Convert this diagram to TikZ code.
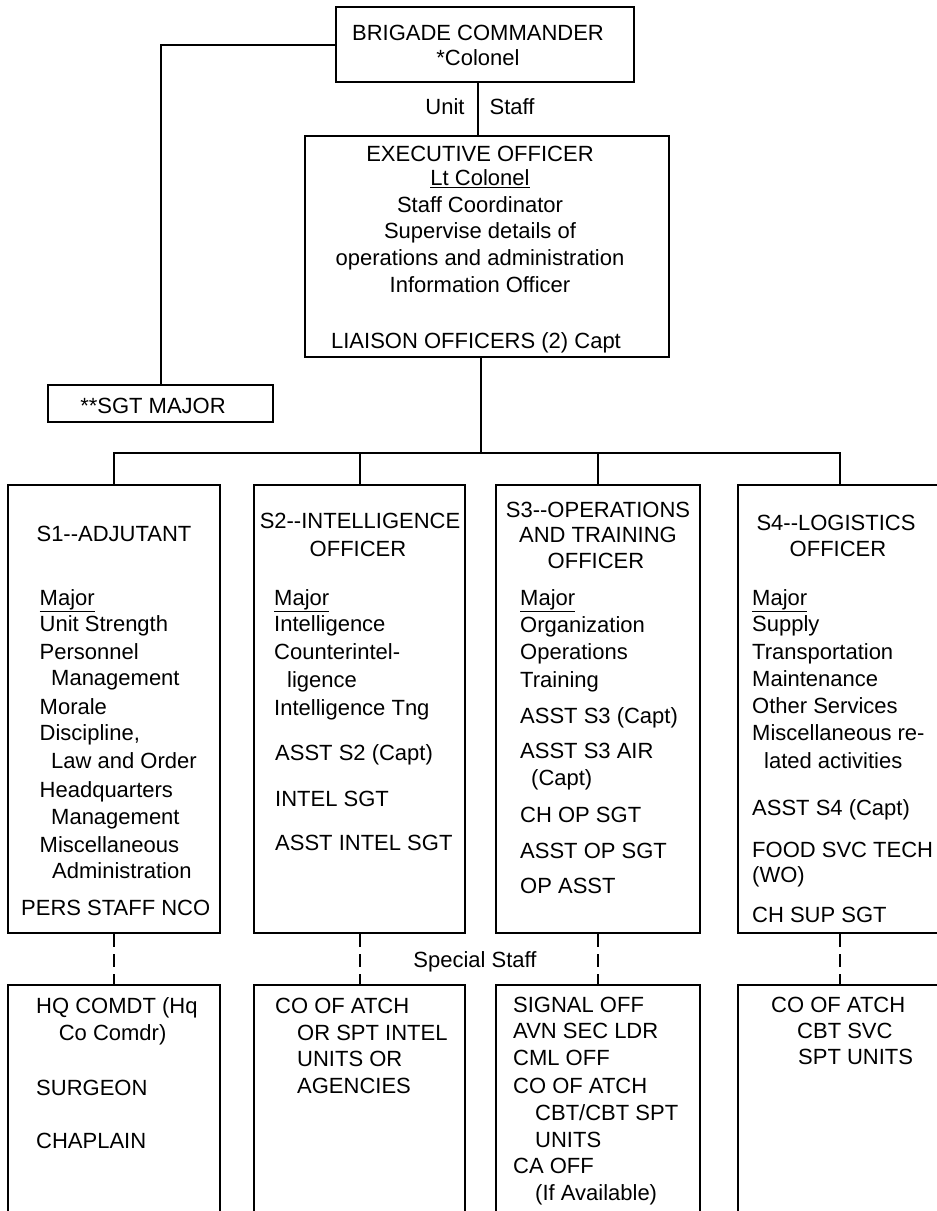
\documentclass[tikz,border=0pt]{standalone}
\usepackage{fontspec}
\setmainfont{Liberation Sans}
\begin{document}
\begin{tikzpicture}[x=1pt,y=-1pt,
  box/.style={draw, line width=2.4pt, rectangle, inner sep=0pt},
  ln/.style={line width=2pt},
  dsh/.style={line width=2pt, dash pattern=on 13pt off 7pt},
  txt/.style={font=\fontsize{22}{26}\selectfont, inner sep=0pt, anchor=base west},
  ctxt/.style={txt, anchor=base}]
\useasboundingbox (0,0) rectangle (937,1211);
\fill[white] (0,0) rectangle (937,1211);

% boxes
\node[box, minimum width=298pt, minimum height=75pt] (bc) at (485,44.5) {};
\node[box, minimum width=364pt, minimum height=221pt] (xo) at (487,246.5) {};
\node[box, minimum width=225pt, minimum height=37pt] (sgt) at (160.5,403.5) {};
\node[box, minimum width=212pt, minimum height=448pt] (s1) at (114,709) {};
\node[box, minimum width=211pt, minimum height=448pt] (s2) at (359.5,709) {};
\node[box, minimum width=204pt, minimum height=448pt] (s3) at (598,709) {};
\node[box, minimum width=204pt, minimum height=448pt] (s4) at (840,709) {};
\node[box, minimum width=212pt, minimum height=245pt] (sp1) at (114,1107.5) {};
\node[box, minimum width=211pt, minimum height=245pt] (sp2) at (359.5,1107.5) {};
\node[box, minimum width=204pt, minimum height=245pt] (sp3) at (598,1107.5) {};
\node[box, minimum width=204pt, minimum height=245pt] (sp4) at (840,1107.5) {};

% connectors
\coordinate (ax) at (478,0);
\coordinate (bus) at (481,453);
\draw[ln] (bc.west) -| (sgt.north);
\draw[ln] (bc.south -| ax) -- (xo.north -| ax);
\draw[ln] (xo.south -| bus) -- (bus);
\draw[ln] (s1.north) |- (bus) -| (s4.north);
\draw[ln] (s2.north) -- (s2.north |- bus);
\draw[ln] (s3.north) -- (s3.north |- bus);
\draw[dsh] (s1.south) -- (sp1.north);
\draw[dsh] (s2.south) -- (sp2.north);
\draw[dsh] (s3.south) -- (sp3.north);
\draw[dsh] (s4.south) -- (sp4.north);

% top texts
\node[ctxt] (bct1) at (478,40) {BRIGADE COMMANDER};
\node[ctxt] (bct2) at (478,65) {*Colonel};
\node[ctxt] (unit) at (445,114) {Unit};
\node[ctxt] (staff) at (512,114) {Staff};
\foreach \px/\py/\tx [count=\i] in {
  480/161/{EXECUTIVE OFFICER},
  480/185.5/{\underline{Lt Colonel}},
  480/212/{Staff Coordinator},
  480/238/{Supervise details of},
  480/265/{operations and administration},
  480/292/{Information Officer},
  476/348/{LIAISON OFFICERS (2) Capt}}
  \node[ctxt] (xt\i) at (\px,\py) {\tx};
\node[ctxt] (sgtt) at (153,413) {**SGT MAJOR};
\node[ctxt] (spst) at (475,967) {Special Staff};

% titles
\node[ctxt] (s1t) at (114,541) {S1{-}{-}ADJUTANT};
\node[ctxt] (s2t1) at (360,528) {S2{-}{-}INTELLIGENCE};
\node[ctxt] (s2t2) at (358,556) {OFFICER};
\node[ctxt] (s3t1) at (598,517) {S3{-}{-}OPERATIONS};
\node[ctxt] (s3t2) at (598,542) {AND TRAINING};
\node[ctxt] (s3t3) at (596,568) {OFFICER};
\node[ctxt] (s4t1) at (836,530) {S4{-}{-}LOGISTICS};
\node[ctxt] (s4t2) at (838,556) {OFFICER};

% S1
\foreach \px/\py/\tx [count=\i] in {
  39.5/605/{\underline{Major}},
  39.5/631/{Unit Strength},
  39.5/659/{Personnel},
  51/685/{Management},
  39.5/714/{Morale},
  39.5/740/{Discipline,},
  51/768/{Law and Order},
  39.5/797/{Headquarters},
  51/824/{Management},
  39.5/852/{Miscellaneous},
  52/878/{Administration},
  21/915/{PERS STAFF NCO}}
  \node[txt] (a\i) at (\px,\py) {\tx};
% S2
\foreach \px/\py/\tx [count=\i] in {
  274/605/{\underline{Major}},
  274/631/{Intelligence},
  274/659/{Counterintel-},
  287/687/{ligence},
  274/715/{Intelligence Tng},
  275/760/{ASST S2 (Capt)},
  275/806/{INTEL SGT},
  275/850/{ASST INTEL SGT}}
  \node[txt] (b\i) at (\px,\py) {\tx};
% S3
\foreach \px/\py/\tx [count=\i] in {
  520/605/{\underline{Major}},
  520/632/{Organization},
  520/659/{Operations},
  520/687/{Training},
  520/723/{ASST S3 (Capt)},
  520/758/{ASST S3 AIR},
  531/785/{(Capt)},
  520/822/{CH OP SGT},
  520/858/{ASST OP SGT},
  520/893/{OP ASST}}
  \node[txt] (c\i) at (\px,\py) {\tx};
% S4
\foreach \px/\py/\tx [count=\i] in {
  752/605/{\underline{Major}},
  752/631/{Supply},
  752/659/{Transportation},
  752/686/{Maintenance},
  752/713/{Other Services},
  752/740/{Miscellaneous re-},
  764/768/{lated activities},
  752/815/{ASST S4 (Capt)},
  752/857/{FOOD SVC TECH},
  752/882/{(WO)},
  752/922/{CH SUP SGT}}
  \node[txt] (d\i) at (\px,\py) {\tx};
% special staff boxes
\foreach \px/\py/\tx [count=\i] in {
  36/1013/{HQ COMDT (Hq},
  58.6/1040/{Co Comdr)},
  36/1095/{SURGEON},
  36/1148/{CHAPLAIN}}
  \node[txt] (e\i) at (\px,\py) {\tx};
\foreach \px/\py/\tx [count=\i] in {
  275/1013/{CO OF ATCH},
  297/1040/{OR SPT INTEL},
  297/1066/{UNITS OR},
  297/1093/{AGENCIES}}
  \node[txt] (f\i) at (\px,\py) {\tx};
\foreach \px/\py/\tx [count=\i] in {
  513/1012/{SIGNAL OFF},
  513/1038/{AVN SEC LDR},
  513/1065/{CML OFF},
  513/1093/{CO OF ATCH},
  535/1120/{CBT/CBT SPT},
  535/1147/{UNITS},
  513/1173/{CA OFF},
  535/1200/{(If Available)}}
  \node[txt] (g\i) at (\px,\py) {\tx};
\foreach \px/\py/\tx [count=\i] in {
  771/1012/{CO OF ATCH},
  797/1038/{CBT SVC},
  798/1064/{SPT UNITS}}
  \node[txt] (h\i) at (\px,\py) {\tx};
\end{tikzpicture}
\end{document}
